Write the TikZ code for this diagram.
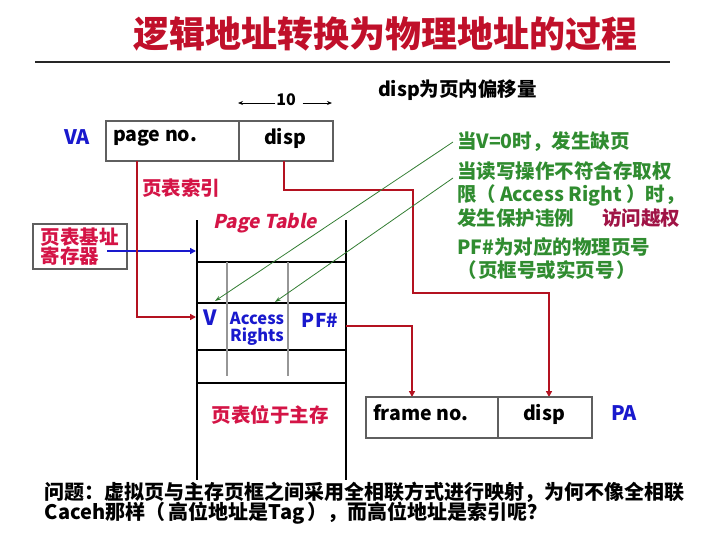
\documentclass[tikz,border=0pt]{standalone}
\usepackage{fontspec}
\setmainfont{Noto Sans CJK SC}
\newfontfamily\ptfont{Noto Sans CJK SC}[FakeSlant=0.2]
\usetikzlibrary{arrows.meta}
\definecolor{titlered}{RGB}{192,16,42}
\definecolor{lblred}{RGB}{212,20,70}
\definecolor{linered}{RGB}{180,18,32}
\definecolor{myblue}{RGB}{25,25,205}
\definecolor{mygreen}{RGB}{48,140,48}
\definecolor{glinec}{RGB}{50,125,50}
\definecolor{accred}{RGB}{160,20,70}
\definecolor{boxgray}{RGB}{95,95,95}
\definecolor{tgray}{RGB}{150,150,150}
\begin{document}
\begin{tikzpicture}[x=1pt,y=-1pt,
  every node/.style={inner sep=0pt, outer sep=0pt},
  bt/.style={font=\fontsize{19.5}{21}\selectfont\bfseries},
  gt/.style={font=\fontsize{19.5}{21}\selectfont\bfseries, text=mygreen, anchor=west},
  cell/.style={draw=boxgray, line width=1.3pt},
  tabline/.style={draw=black, line width=2pt},
  grayline/.style={draw=tgray, line width=2pt},
  redarrow/.style={draw=linered, line width=2pt, -{Triangle[length=6pt,width=6pt]}},
  bluearrow/.style={draw=myblue, line width=2pt, -{Triangle[length=6pt,width=6pt]}},
  greenarrow/.style={draw=glinec, line width=0.8pt, -{Stealth[length=6pt,width=4pt]}},
  thinarrow/.style={draw=black, line width=0.8pt, -{Stealth[length=5pt,width=4pt]}}]
\useasboundingbox (0,0) rectangle (724,536);

% title
\node[font=\fontsize{36}{40}\selectfont\bfseries, text=titlered] (title) at (385.5,34) {逻辑地址转换为物理地址的过程};
\coordinate (hl1) at (35,62);
\coordinate (hl2) at (670,62);
\draw[line width=1.5pt, black!85] (hl1) -- (hl2);

\node[bt, anchor=west] (dispnote) at (378,90) {disp为页内偏移量};

% 10 width marker
\node[font=\fontsize{16}{18}\selectfont\bfseries] (ten) at (286,100) {10};
\coordinate (tenl) at (238,103);
\coordinate (tenr) at (332,103);
\draw[thinarrow] ([xshift=-1pt,yshift=-3pt]ten.west) -- (tenl);
\draw[thinarrow] ([xshift=7pt,yshift=-3pt]ten.east) -- (tenr);

% VA
\node[font=\fontsize{20}{22}\selectfont\bfseries, text=myblue] (va) at (77,137) {VA};
\node[cell, minimum width=133pt, minimum height=40pt] (vapage) at (172.5,141) {};
\node[cell, minimum width=94pt, minimum height=40pt] (vadisp) at (286,141) {};
\node[bt, anchor=west] (vapagetxt) at (113,138.5) {page no.};
\node[bt] (vadisptxt) at (285,138) {disp};

\node[bt, text=lblred, anchor=west] (idx) at (142,188) {页表索引};

% register
\node[draw=boxgray, line width=1.3pt, minimum width=94pt, minimum height=45pt, align=left,
      font=\fontsize{19.5}{19.5}\selectfont\bfseries, text=lblred] (reg) at (80,246.5) {页表基址\\寄存器};

% page table
\node[font=\ptfont\bfseries\fontsize{19}{21}\selectfont, text=lblred] (pt) at (265,223) {Page Table};
\coordinate (tabTL) at (197,220);
\coordinate (tabBL) at (197,480);
\coordinate (tabTR) at (346,220);
\coordinate (tabBR) at (346,480);
\draw[tabline] (tabTL) -- (tabBL);
\draw[tabline] (tabTR) -- (tabBR);
\foreach \yy/\nn in {262/a,303/b,350/c,383/d}{
  \coordinate (h\nn l) at (197,\yy);
  \coordinate (h\nn r) at (346,\yy);
  \draw[tabline] (h\nn l) -- (h\nn r);
}
\coordinate (g1t) at (227,262);
\coordinate (g1b) at (227,376);
\coordinate (g2t) at (288,262);
\coordinate (g2b) at (288,376);
\draw[grayline] (g1t) -- (g1b);
\draw[grayline] (g2t) -- (g2b);

\node[font=\fontsize{21}{22}\selectfont\bfseries, text=myblue] (vtxt) at (210,318) {V};
\node[font=\fontsize{16.5}{16.5}\selectfont\bfseries, text=myblue, align=center] (ar) at (257,329) {Access\\Rights};
\node[font=\fontsize{19}{21}\selectfont\bfseries, text=myblue] (pf) at (320,320) {PF\#};
\node[bt, text=lblred] (inmem) at (270,415) {页表位于主存};

% blue arrow from register
\coordinate (regsrc) at (107,251);
\coordinate (ptin) at (196,251);
\draw[bluearrow] (regsrc) -- (ptin);

% red connectors
\coordinate (pnout) at (137,161);
\coordinate (vin) at (196,317);
\draw[redarrow] (pnout) |- (vin);

\coordinate (dout) at (284,161);
\coordinate (dc1) at (413,190);
\coordinate (dc2) at (549,293);
\coordinate (padin) at (549,397);
\draw[redarrow] (dout) |- (dc1) |- (dc2) -- (padin);

\coordinate (pfout) at (346,326);
\coordinate (pafin) at (412,397);
\draw[redarrow] (pfout) -| (pafin);

% PA
\node[cell, minimum width=132pt, minimum height=41pt] (pafr) at (432,417.5) {};
\node[cell, minimum width=94pt, minimum height=41pt] (padisp) at (545,417.5) {};
\node[bt, anchor=west] (pafrtxt) at (373,413) {frame no.};
\node[bt] (padisptxt) at (544,414) {disp};
\node[font=\fontsize{20}{22}\selectfont\bfseries, text=myblue] (pa) at (624,413) {PA};

% green notes
\node[gt] (n1) at (457,142) {当V=0时，发生缺页};
\node[gt] (n2) at (457,171) {当读写操作不符合存取权};
\node[gt] (n3) at (457,195) {限（\hspace{4pt}Access Right\hspace{4pt}）时，};
\node[gt] (n4) at (457,218) {发生保护违例};
\node[bt, text=accred] (acc) at (641,218) {访问越权};
\node[gt] (n5) at (457,247) {PF\#为对应的物理页号};
\node[gt] (n6) at (457,270) {（\hspace{2pt}页框号或实页号\hspace{2pt}）};

\coordinate (vtgt) at (215,301);
\coordinate (artgt) at (275,302);
\draw[greenarrow] ([xshift=-4pt]n1.west) -- (vtgt);
\draw[greenarrow] ([xshift=-4pt,yshift=-7pt]n2.west) -- (artgt);

% question
\node[font=\fontsize{20}{22}\selectfont\bfseries, anchor=west] (q1) at (45,492) {问题：虚拟页与主存页框之间采用全相联方式进行映射，为何不像全相联};
\node[font=\fontsize{20}{22}\selectfont\bfseries, anchor=west] (q2) at (45,513) {Caceh那样（\hspace{3pt}高位地址是Tag\hspace{3pt}），而高位地址是索引呢？};
\end{tikzpicture}
\end{document}
